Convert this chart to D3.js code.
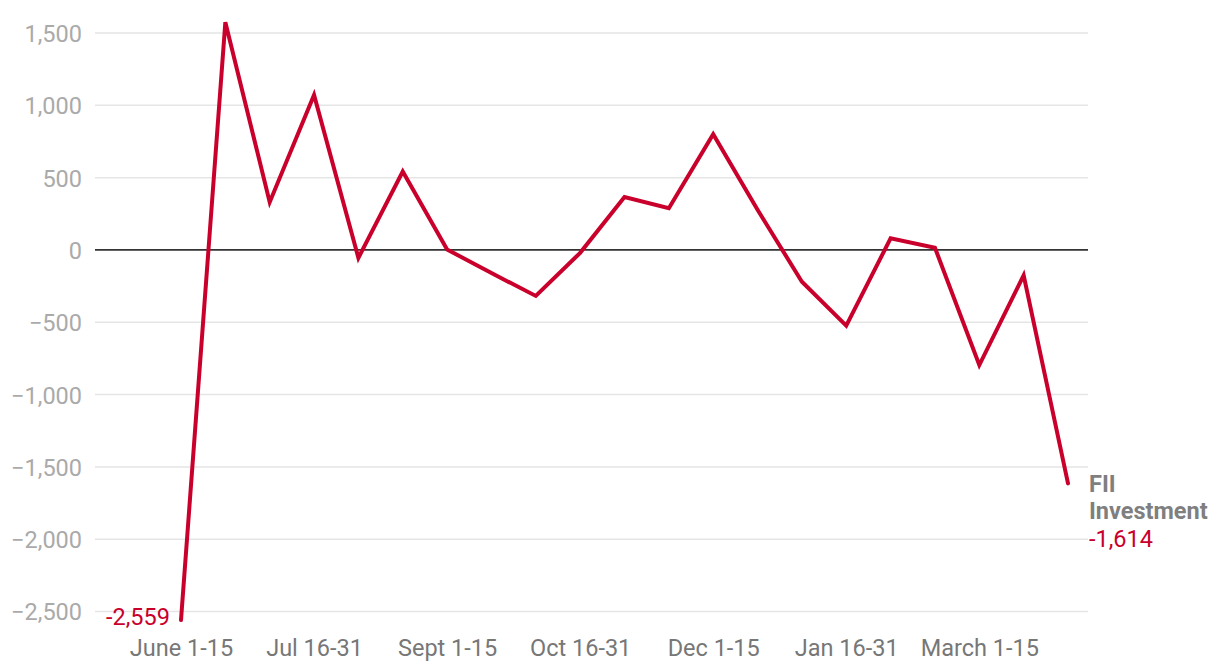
<!DOCTYPE html>
<html>
<head>
<meta charset="utf-8">
<script src="https://cdn.jsdelivr.net/npm/d3@7"></script>
<style>
  html, body { margin: 0; padding: 0; background: #fff; }
  svg { display: block; font-family: Roboto, "Noto Sans", sans-serif; }
</style>
</head>
<body>
<svg id="chart" width="1220" height="672"></svg>
<script>
const categories = ["June 1-15","June 16-30","Jul 1-15","Jul 16-31","Aug 1-15","Aug 16-31",
  "Sept 1-15","Sept 16-30","Oct 1-15","Oct 16-31","Nov 1-15","Nov 16-30","Dec 1-15","Dec 16-31",
  "Jan 1-15","Jan 16-31","Feb 1-15","Feb 16-28","March 1-15","March 16-31","April 1-15"];
const fiiValues = [-2559, 1575, 330, 1072, -55, 542, 3, -160, -318, -20, 366, 288, 800, 278,
  -220, -524, 80, 15, -796, -176, -1614];
const yTicks = [-2500, -2000, -1500, -1000, -500, 0, 500, 1000, 1500];
const xTickLabels = ["June 1-15","Jul 16-31","Sept 1-15","Oct 16-31","Dec 1-15","Jan 16-31","March 1-15"];
const seriesName = ["FII", "Investment"];

const svg = d3.select("#chart");
const red = "#c9002b";
const FS = 23.5;

const x = d3.scalePoint().domain(categories).range([181, 1068]);
const y = d3.scaleLinear().domain([-2500, 1500]).range([611.5, 33]);
const gridX0 = 95, gridX1 = 1088;

// gridlines
svg.append("g").selectAll("line").data(yTicks.filter(d => d !== 0)).join("line")
  .attr("x1", gridX0).attr("x2", gridX1)
  .attr("y1", d => y(d)).attr("y2", d => y(d))
  .attr("stroke", "#e5e5e5").attr("stroke-width", 1.5);

// y axis labels
const yAxis = d3.axisLeft(y).tickValues(yTicks).tickSize(0).tickPadding(0).tickFormat(d3.format(",d"));
const ya = svg.append("g").attr("transform", "translate(82,0)").call(yAxis);
ya.select(".domain").remove();
ya.selectAll("text").attr("font-size", FS).attr("fill", "#aaaaaa")
  .attr("font-family", "Roboto, sans-serif").attr("dy", "0.36em");

// zero line
svg.append("line").attr("x1", gridX0).attr("x2", gridX1)
  .attr("y1", y(0)).attr("y2", y(0)).attr("stroke", "#333").attr("stroke-width", 1.8);

// x axis labels
const xAxis = d3.axisBottom(x).tickValues(xTickLabels).tickSize(0).tickPadding(0);
const xa = svg.append("g").attr("transform", "translate(0,656)").call(xAxis);
xa.select(".domain").remove();
xa.selectAll("text").attr("font-size", FS).attr("fill", "#777777")
  .attr("font-family", "Roboto, sans-serif").attr("dy", "0");

// line
const line = d3.line().x((d, i) => x(categories[i])).y(d => y(d));
svg.append("path").datum(fiiValues).attr("d", line)
  .attr("fill", "none").attr("stroke", red).attr("stroke-width", 4)
  .attr("stroke-linejoin", "miter").attr("stroke-linecap", "round");

// first value label
const fmt = v => (v < 0 ? "-" : "") + d3.format(",d")(Math.abs(v));
svg.append("text").attr("x", x(categories[0]) - 11).attr("y", y(fiiValues[0]) + 5)
  .attr("text-anchor", "end").attr("font-size", FS).attr("fill", red).text(fmt(fiiValues[0]));

// end label
const last = fiiValues.length - 1;
const lx = 1089;
svg.append("text").attr("x", lx).attr("y", 492).attr("font-size", FS).attr("font-weight", "bold")
  .attr("fill", "#7f7f7f").text(seriesName[0]);
svg.append("text").attr("x", lx).attr("y", 519).attr("font-size", FS).attr("font-weight", "bold")
  .attr("fill", "#7f7f7f").text(seriesName[1]);
svg.append("text").attr("x", lx).attr("y", 547).attr("font-size", FS)
  .attr("fill", red).text(fmt(fiiValues[last]));
</script>
</body>
</html>
